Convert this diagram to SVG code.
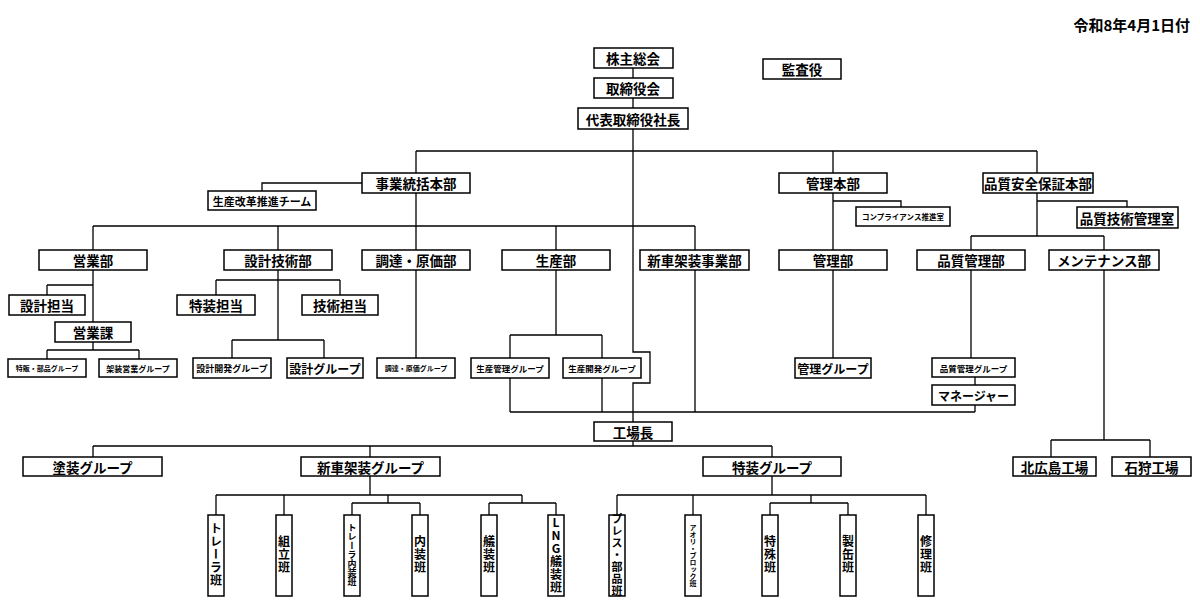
<svg xmlns="http://www.w3.org/2000/svg" width="1200" height="600" viewBox="0 0 1200 600">
<style>
rect{fill:#fff;stroke:#000;stroke-width:1.5}
text{font-family:"Noto Sans CJK JP","Noto Sans",sans-serif;font-weight:bold;fill:#000;text-anchor:middle;dominant-baseline:central}
.m{font-size:13.5px}
.s{font-size:8.5px}
.g{font-size:12px}
.v{writing-mode:vertical-rl;text-orientation:upright;font-size:12px;letter-spacing:1px}
.vs{writing-mode:vertical-rl;text-orientation:upright;font-size:9px}
.vx{writing-mode:vertical-rl;text-orientation:upright;font-size:7px}
#c path{fill:none;stroke:#000;stroke-width:1.3}
</style>
<rect width="1200" height="600" style="fill:#fff;stroke:none"/>
<text x="1190" y="24" style="text-anchor:end;font-size:15px">令和8年4月1日付</text>
<g id="c">
<path d="M633 68V78M633 98V108M633 129V352H650V383H633V422M633 441V446"/>
<path d="M416 151H1037M416 151V173M833 151V173M1037 151V173"/>
<path d="M362 183H262V191M833 193V250M833 201H901V207M1037 193V236M1037 201H1127V207M971 236H1104M971 236V250M1104 236V250"/>
<path d="M416 193V226M93 226H695M93 226V250M278 226V250M416 226V250M556 226V250M695 226V250"/>
<path d="M93 270V322M47 285H93M47 285V295M93 342V350M47 350H139M47 350V359M139 350V359"/>
<path d="M278 270V340M216 280H340M216 280V295M340 280V295M232 340H324M232 340V358M324 340V358"/>
<path d="M416 270V358M556 270V335M510 335H602M510 335V358M602 335V358M510 378V412M602 378V412M510 412H975M695 270V412M975 405V412"/>
<path d="M833 270V358M971 270V358M975 377V385"/>
<path d="M1104 270V440M1051 440H1150M1051 440V457M1150 440V457"/>
<path d="M93 446H772M93 446V457M370 446V457M772 446V457"/>
<path d="M370 476V495M216 495H522M216 495V515M284 495V515M388 495V503M352 503H420M352 503V515M420 503V515M522 495V503M489 503H556M489 503V515M556 503V515"/>
<path d="M772 476V495M617 495H926M617 495V515M693 495V515M926 495V515M811 495V503M770 503H848M770 503V515M848 503V515"/>
</g>
<g id="n1"><rect x="594" y="48" width="79" height="20"/><text class="m" x="633" y="58">株主総会</text></g>
<g id="n2"><rect x="594" y="78" width="79" height="20"/><text class="m" x="633" y="88">取締役会</text></g>
<g id="n3"><rect x="578" y="108" width="110" height="21"/><text class="m" x="633" y="118.5">代表取締役社長</text></g>
<g id="n4"><rect x="763" y="59" width="78" height="20"/><text class="m" x="802" y="69">監査役</text></g>
<g id="n5"><rect x="362" y="173" width="108" height="20"/><text class="m" x="416" y="183">事業統括本部</text></g>
<g id="n6"><rect x="208" y="191" width="108" height="19"/><text class="g" x="262" y="200.5" style="font-size:11px">生産改革推進チーム</text></g>
<g id="n7"><rect x="779" y="173" width="108" height="20"/><text class="m" x="833" y="183">管理本部</text></g>
<g id="n8"><rect x="856" y="207" width="94" height="19"/><text class="s" x="903" y="216.5" style="font-size:7.5px">コンプライアンス推進室</text></g>
<g id="n9"><rect x="983" y="173" width="110" height="20"/><text class="m" x="1038" y="183">品質安全保証本部</text></g>
<g id="n10"><rect x="1077" y="207" width="101" height="21"/><text class="m" x="1127" y="217.5">品質技術管理室</text></g>
<g id="n11"><rect x="39" y="250" width="108" height="20"/><text class="m" x="93" y="260">営業部</text></g>
<g id="n12"><rect x="224" y="250" width="108" height="20"/><text class="m" x="278" y="260">設計技術部</text></g>
<g id="n13"><rect x="362" y="250" width="108" height="20"/><text class="m" x="416" y="260">調達・原価部</text></g>
<g id="n14"><rect x="502" y="250" width="108" height="20"/><text class="m" x="556" y="260">生産部</text></g>
<g id="n15"><rect x="640" y="250" width="109" height="20"/><text class="m" x="694.5" y="260">新車架装事業部</text></g>
<g id="n16"><rect x="779" y="250" width="108" height="20"/><text class="m" x="833" y="260">管理部</text></g>
<g id="n17"><rect x="917" y="250" width="108" height="20"/><text class="m" x="971" y="260">品質管理部</text></g>
<g id="n18"><rect x="1049" y="250" width="110" height="20"/><text class="m" x="1104" y="260">メンテナンス部</text></g>
<g id="n19"><rect x="9" y="295" width="76" height="20"/><text class="m" x="47" y="305">設計担当</text></g>
<g id="n20"><rect x="55" y="322" width="76" height="20"/><text class="m" x="93" y="332">営業課</text></g>
<g id="n21"><rect x="177" y="295" width="78" height="20"/><text class="m" x="216" y="305">特装担当</text></g>
<g id="n22"><rect x="302" y="295" width="76" height="20"/><text class="m" x="340" y="305">技術担当</text></g>
<g id="n23"><rect x="8" y="359" width="78" height="18"/><text class="s" x="47" y="368" style="font-size:7px">特販・部品グループ</text></g>
<g id="n24"><rect x="99" y="359" width="78" height="18"/><text class="s" x="138" y="368" style="font-size:8px">架装営業グループ</text></g>
<g id="n25"><rect x="193" y="358" width="78" height="20"/><text class="s" x="232" y="368" style="font-size:9px">設計開発グループ</text></g>
<g id="n26"><rect x="287" y="358" width="76" height="20"/><text class="g" x="325" y="368">設計グループ</text></g>
<g id="n27"><rect x="377" y="358" width="78" height="20"/><text class="s" x="416" y="368" style="font-size:7px">調達・原価グループ</text></g>
<g id="n28"><rect x="471" y="358" width="78" height="20"/><text class="s" x="510" y="368">生産管理グループ</text></g>
<g id="n29"><rect x="563" y="358" width="78" height="20"/><text class="s" x="602" y="368">生産開発グループ</text></g>
<g id="n30"><rect x="795" y="358" width="76" height="20"/><text class="g" x="833" y="368">管理グループ</text></g>
<g id="n31"><rect x="932" y="358" width="83" height="19"/><text class="s" x="973.5" y="367.5">品質管理グループ</text></g>
<g id="n32"><rect x="932" y="385" width="83" height="20"/><text class="g" x="973.5" y="395">マネージャー</text></g>
<g id="n33"><rect x="594" y="422" width="78" height="19"/><text class="m" x="633" y="431.5">工場長</text></g>
<g id="n34"><rect x="23" y="457" width="139" height="19"/><text class="m" x="92.5" y="466.5">塗装グループ</text></g>
<g id="n35"><rect x="301" y="457" width="139" height="19"/><text class="m" x="370.5" y="466.5">新車架装グループ</text></g>
<g id="n36"><rect x="703" y="457" width="138" height="19"/><text class="m" x="772" y="466.5">特装グループ</text></g>
<g id="n37"><rect x="1013" y="457" width="83" height="19"/><text class="m" x="1054.5" y="466.5">北広島工場</text></g>
<g id="n38"><rect x="1112" y="457" width="79" height="19"/><text class="m" x="1151.5" y="466.5">石狩工場</text></g>
<g id="n39"><rect x="208" y="515" width="16" height="81"/><text class="v" x="216" y="555">トレーラ班</text></g>
<g id="n40"><rect x="276" y="515" width="16" height="81"/><text class="v" x="284" y="555">組立班</text></g>
<g id="n41"><rect x="344" y="515" width="16" height="81"/><text class="vs" x="352" y="555">トレーラ内装班</text></g>
<g id="n42"><rect x="412" y="515" width="16" height="81"/><text class="v" x="420" y="555">内装班</text></g>
<g id="n43"><rect x="481" y="515" width="16" height="81"/><text class="v" x="489" y="555">艤装班</text></g>
<g id="n44"><rect x="548" y="515" width="16" height="81"/><text class="v" x="556" y="555">LNG艤装班</text></g>
<g id="n45"><rect x="609" y="515" width="16" height="81"/><text class="v" x="617" y="555" style="font-size:11px">プレス・部品班</text></g>
<g id="n46"><rect x="685" y="515" width="16" height="81"/><text class="vx" x="693" y="555">アオリ・ブロック班</text></g>
<g id="n47"><rect x="762" y="515" width="16" height="81"/><text class="v" x="770" y="555">特殊班</text></g>
<g id="n48"><rect x="840" y="515" width="16" height="81"/><text class="v" x="848" y="555">製缶班</text></g>
<g id="n49"><rect x="918" y="515" width="16" height="81"/><text class="v" x="926" y="555">修理班</text></g>
</svg>
